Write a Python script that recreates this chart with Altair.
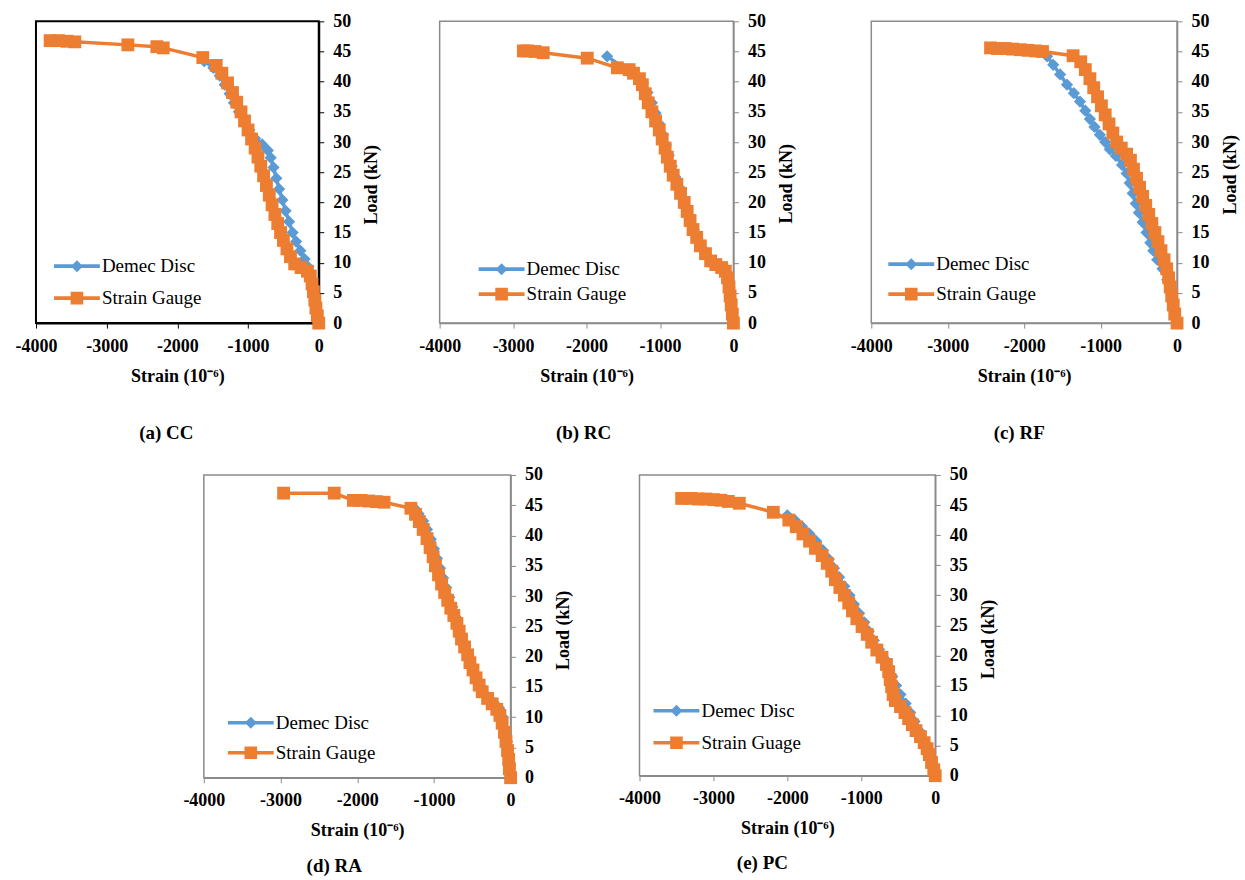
import altair as alt
import pandas as pd

FONT = "Liberation Serif"
BLUE = "#5B9BD5"
ORANGE = "#ED7D31"

# ---------------- data (strain in 10^-6, load in kN) ----------------
cc_dd_strain = [0, -25, -55, -85, -115, -150, -200, -260, -320, -370, -420, -470, -515, -560, -600, -640, -680, -720, -800, -900, -980, -1050, -1130, -1200, -1260, -1330, -1400, -1490, -1620]
cc_dd_load = [0, 2, 4, 6, 8, 9.3, 10.6, 12, 13.5, 15, 16.8, 18.6, 20.4, 22.2, 24, 25.8, 27.4, 28.6, 29.6, 30.6, 32, 33.5, 35, 36.5, 38, 39.5, 41, 42.3, 43.4]
cc_sg_strain = [0, -20, -40, -55, -75, -95, -120, -160, -250, -340, -400, -450, -500, -540, -580, -620, -660, -700, -740, -780, -820, -860, -900, -950, -1000, -1050, -1100, -1160, -1220, -1290, -1370, -1450, -1640, -2200, -2290, -2700, -3450, -3560, -3680, -3800]
cc_sg_load = [0, 1.2, 2.5, 3.8, 5.2, 6.5, 7.8, 8.6, 9.2, 9.8, 11, 12.3, 13.7, 15, 16.5, 18, 19.6, 21.2, 22.8, 24.4, 26, 27.5, 29, 30.5, 32, 33.5, 35, 36.6, 38.2, 39.8, 41.4, 42.7, 44, 45.6, 45.8, 46.1, 46.6, 46.7, 46.8, 46.8]

rc_dd_strain = [0, -15, -35, -55, -80, -130, -250, -350, -430, -490, -540, -590, -640, -690, -740, -790, -840, -880, -920, -960, -1010, -1060, -1110, -1170, -1230, -1320, -1450, -1720]
rc_dd_load = [0, 2, 4, 6, 8, 9.2, 9.9, 11, 12.5, 14, 15.5, 17.2, 19, 20.8, 22.5, 24.2, 26, 27.8, 29.5, 31.2, 33, 34.8, 36.5, 38.2, 39.8, 41, 42, 44.2]
rc_sg_strain = [0, -15, -30, -45, -60, -80, -110, -160, -240, -310, -380, -450, -500, -550, -590, -630, -670, -720, -770, -820, -860, -900, -930, -970, -1010, -1060, -1110, -1160, -1200, -1240, -1280, -1360, -1420, -1580, -1990, -2590, -2700, -2800, -2860]
rc_sg_load = [0, 1.5, 3, 4.5, 6, 7.5, 8.6, 9.2, 9.7, 10.3, 11.5, 12.8, 14.2, 15.5, 17, 18.5, 20, 21.5, 23, 24.5, 26, 27.5, 29, 30.5, 32, 33.5, 35, 36.5, 38, 39.5, 40.5, 41.4, 42, 42.3, 43.9, 44.8, 45, 45.1, 45.1]

rf_dd_strain = [0, -30, -50, -90, -130, -190, -260, -310, -350, -400, -450, -500, -540, -580, -620, -660, -720, -800, -880, -940, -1010, -1080, -1140, -1200, -1270, -1350, -1440, -1530, -1620, -1700, -1800, -1950]
rf_dd_load = [0, 1.5, 3.3, 5.2, 7.2, 9, 10.5, 12, 13.3, 15, 16.7, 18.3, 19.8, 21.5, 23.2, 24.8, 26.2, 27.7, 28.8, 30, 31.2, 32.5, 33.8, 35.2, 36.7, 38.1, 39.5, 41.2, 42.8, 44.2, 45, 45.2]
rf_sg_strain = [0, -30, -50, -70, -90, -110, -135, -170, -210, -250, -290, -330, -370, -410, -450, -490, -530, -570, -610, -660, -730, -790, -840, -890, -940, -990, -1040, -1090, -1140, -1200, -1260, -1360, -1760, -1850, -1950, -2050, -2150, -2250, -2350, -2440]
rf_sg_load = [0, 1.5, 3, 4.5, 6, 7.5, 9, 10.5, 12, 13.5, 15, 16.5, 18, 19.5, 21, 22.5, 24, 25.5, 27, 28, 29, 30, 31.5, 33, 34.5, 36, 37.5, 39, 40.5, 42, 43.3, 44.3, 45, 45.1, 45.2, 45.3, 45.4, 45.5, 45.5, 45.6]

ra_dd_strain = [0, -10, -25, -45, -70, -100, -150, -230, -330, -400, -450, -500, -550, -590, -630, -680, -720, -760, -800, -840, -880, -920, -960, -1000, -1040, -1090, -1140, -1200, -1260]
ra_dd_load = [0, 2, 4, 6, 8, 10, 11.5, 12.5, 13.8, 15.2, 16.8, 18.5, 20.2, 21.8, 23.4, 25, 26.6, 28.2, 29.8, 31.4, 33, 34.6, 36.2, 37.8, 39.4, 41, 42.4, 43.6, 44.6]
ra_sg_strain = [0, -15, -25, -40, -60, -80, -110, -140, -180, -240, -300, -370, -410, -450, -490, -530, -560, -600, -640, -670, -700, -740, -780, -820, -860, -900, -940, -980, -1010, -1050, -1090, -1140, -1190, -1240, -1300, -1650, -1750, -1850, -1950, -2050, -2300, -2960]
ra_sg_load = [0, 1.5, 3, 4.5, 6, 7.5, 9, 10.3, 11.3, 12.2, 13.1, 14.2, 15.3, 16.5, 17.8, 19, 20.3, 21.6, 22.9, 24.2, 25.5, 26.8, 28, 29.3, 30.6, 32, 33.5, 35, 36.5, 38, 39.5, 41, 42.3, 43.5, 44.5, 45.5, 45.6, 45.7, 45.8, 45.8, 47, 47]

pc_dd_strain = [0, -30, -70, -110, -160, -220, -280, -340, -400, -470, -530, -580, -630, -690, -760, -830, -900, -960, -1030, -1100, -1160, -1230, -1300, -1370, -1440, -1520, -1610, -1700, -1800, -1900, -2000]
pc_dd_load = [0, 1.5, 3, 4.5, 6, 7.5, 9, 10.5, 12, 13.5, 15, 16.5, 18, 19.5, 21, 22.5, 24, 25.5, 27, 28.5, 30, 31.5, 33, 34.5, 36, 37.5, 39, 40.2, 41.4, 42.5, 43.3]
pc_sg_strain = [0, -20, -50, -80, -110, -150, -200, -260, -310, -360, -410, -470, -540, -570, -590, -610, -630, -660, -720, -790, -860, -920, -990, -1060, -1120, -1170, -1230, -1290, -1350, -1400, -1460, -1530, -1620, -1700, -1790, -1880, -1980, -2190, -2650, -2800, -2900, -3000, -3100, -3200, -3300, -3430]
pc_sg_load = [0, 1, 2.2, 3.5, 4.5, 5.5, 6.5, 7.5, 8.5, 9.5, 10.5, 11.5, 12.5, 13.5, 14.8, 16, 17.3, 18.5, 19.7, 20.9, 22.2, 23.5, 24.8, 26.1, 27.4, 28.7, 30, 31.3, 32.6, 34, 35.3, 36.6, 37.8, 39, 40.2, 41.4, 42.5, 43.8, 45.3, 45.6, 45.8, 45.9, 46, 46, 46.1, 46.1]

x_ticks = [-4000, -3000, -2000, -1000, 0]
y_ticks = [0, 5, 10, 15, 20, 25, 30, 35, 40, 45, 50]

# legend symbols: a line with the marker on it (unit path, scaled by symbolSize)
DIAMOND_PATH = "M-1.53,-0.12H1.53V0.12H-1.53Z M0,-0.4L0.4,0L0,0.4L-0.4,0Z"
SQUARE_PATH = "M-1.53,-0.12H1.53V0.12H-1.53Z M-0.42,-0.42H0.42V0.42H-0.42Z"


def frame_df(strain, load, series):
    return pd.DataFrame({"strain": strain, "load": load, "series": series,
                         "idx": list(range(len(strain)))})


def panel(caption, dd_s, dd_l, sg_s, sg_l, sg_label, width, height, frame,
          frame_w, lx, ly, rp, title_y, cap_offset, cap_dx):
    dd = frame_df(dd_s, dd_l, "Demec Disc")
    sg = frame_df(sg_s, sg_l, sg_label)
    both = pd.concat([dd, sg], ignore_index=True)
    domain = ["Demec Disc", sg_label]

    x = alt.X("strain:Q", scale=alt.Scale(domain=[-4000, 0], nice=False, zero=False),
              axis=alt.Axis(values=x_ticks, title="Strain (10⁻⁶)", labelExpr="'' + datum.value",
                            domainColor=frame, domainWidth=frame_w, tickColor=frame,
                            tickSize=5, labelPadding=9, titlePadding=12, labelFlush=False))
    y = alt.Y("load:Q", scale=alt.Scale(domain=[0, 50], nice=False),
              axis=alt.Axis(values=y_ticks, orient="right", title="Load (kN)",
                            titleAngle=270, titleBaseline="top", titleY=title_y,
                            domainColor=frame, domainWidth=frame_w, tickColor=frame,
                            tickSize=5, labelPadding=9, titlePadding=12, labelFlush=False))

    leg = alt.Legend(title=None, orient="none", legendX=lx, legendY=ly, direction="vertical",
                     padding=0, rowPadding=rp, symbolSize=900, labelFont=FONT,
                     labelFontSize=19, labelFontWeight="normal", labelColor="black",
                     labelOffset=10, labelLimit=300, symbolStrokeWidth=0)

    dd_line = alt.Chart(dd).mark_line(color=BLUE, strokeWidth=3.5).encode(x=x, y=y, order="idx:Q")
    dd_pts = alt.Chart(dd).mark_point(shape="diamond", filled=True, size=150, color=BLUE,
                                      opacity=1).encode(x=x, y=y)
    sg_line = alt.Chart(sg).mark_line(color=ORANGE, strokeWidth=3.5).encode(x=x, y=y, order="idx:Q")
    sg_pts = alt.Chart(sg).mark_point(shape="square", filled=True, size=165, color=ORANGE,
                                      opacity=1).encode(x=x, y=y)
    legend_layer = alt.Chart(both).transform_filter("false").mark_point(
        filled=True, opacity=1).encode(
        x=x, y=y,
        color=alt.Color("series:N", scale=alt.Scale(domain=domain, range=[BLUE, ORANGE]), legend=leg),
        shape=alt.Shape("series:N", scale=alt.Scale(domain=domain, range=[DIAMOND_PATH, SQUARE_PATH]),
                        legend=leg))

    return alt.layer(dd_line, dd_pts, sg_line, sg_pts, legend_layer).properties(
        width=width, height=height,
        view=alt.ViewBackground(stroke=frame, strokeWidth=frame_w, fill="white"),
        title=alt.TitleParams(caption, orient="bottom", anchor="middle", frame="group",
                              offset=cap_offset, dx=cap_dx, font=FONT, fontSize=19,
                              fontWeight="bold", color="black"))


def indep(c):
    return c.resolve_scale(color="independent", shape="independent").resolve_legend(
        color="independent", shape="independent")


pa = panel("(a) CC", cc_dd_strain, cc_dd_load, cc_sg_strain, cc_sg_load, "Strain Gauge",
           283, 302, "#000000", 2, 26, 230, 7, 163, 39, -11)
pb = panel("(b) RC", rc_dd_strain, rc_dd_load, rc_sg_strain, rc_sg_load, "Strain Gauge",
           294, 302, "#8a8a8a", 1.5, 47, 233, 0, 162, 39, -3)
pc = panel("(c) RF", rf_dd_strain, rf_dd_load, rf_sg_strain, rf_sg_load, "Strain Gauge",
           306, 302, "#8a8a8a", 1.5, 25, 228, 5, 153, 39, -5)
pd_ = panel("(d) RA", ra_dd_strain, ra_dd_load, ra_sg_strain, ra_sg_load, "Strain Gauge",
            307, 303, "#8a8a8a", 1.5, 32, 233, 5, 155, 17, -23)
pe = panel("(e) PC", pc_dd_strain, pc_dd_load, pc_sg_strain, pc_sg_load, "Strain Guage",
           296, 301, "#8a8a8a", 1.5, 22, 221, 7, 164, 16, -25)

spacer = alt.Chart(pd.DataFrame({"v": [0]})).mark_point(opacity=0).encode(
    x=alt.X("v:Q", axis=None), y=alt.Y("v:Q", axis=None)).properties(
    width=158, height=10, view=alt.ViewBackground(stroke="transparent"))

top = indep(alt.hconcat(pa, indep(alt.hconcat(pb, pc, spacing=138, bounds="flush")),
                        spacing=121, bounds="flush"))
bottom = indep(alt.hconcat(spacer, indep(alt.hconcat(pd_, pe, spacing=129, bounds="flush")),
                           spacing=10, bounds="flush"))

# nested concat groups count as zero height in a flush layout: the spacing spans row 1
chart = indep(alt.vconcat(top, bottom, spacing=454, bounds="flush")).properties(
    padding={"left": 14, "top": 11, "right": 5, "bottom": 5},
    background="white",
).configure_axis(
    labelFont=FONT, labelFontSize=18, labelFontWeight="bold", labelColor="black",
    titleFont=FONT, titleFontSize=18, titleFontWeight="bold", titleColor="black",
    grid=False,
).configure_view(stroke="#8a8a8a")

chart.save("out.html", embed_options={"renderer": "svg", "actions": False})
